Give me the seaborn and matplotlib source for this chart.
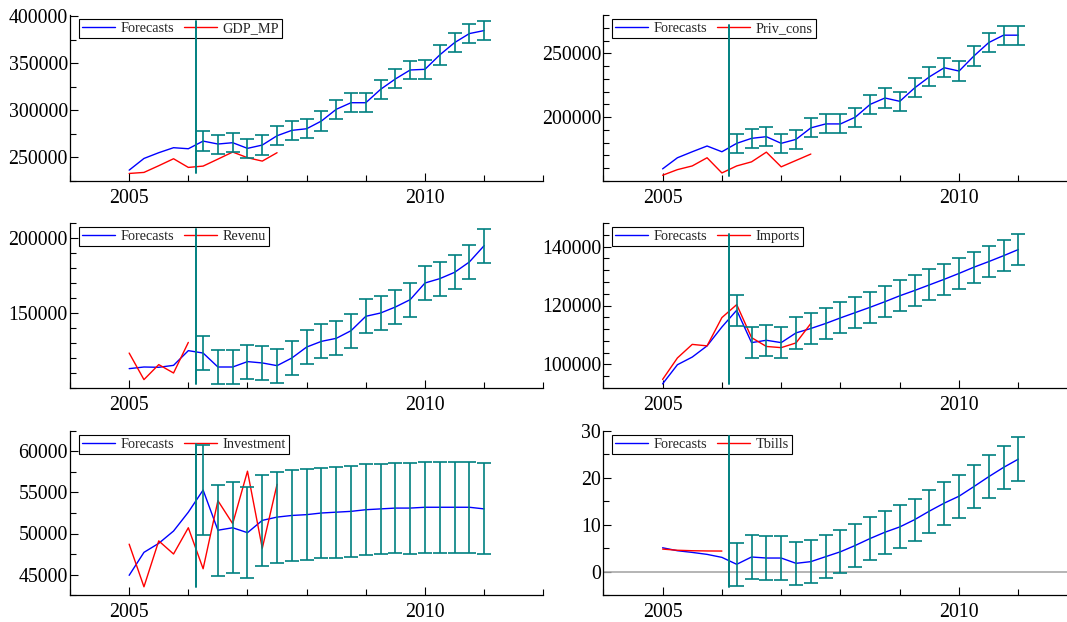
import numpy as np
import matplotlib
matplotlib.use("Agg")
import matplotlib.pyplot as plt
from matplotlib.ticker import FixedLocator, MultipleLocator, StrMethodFormatter
import seaborn as sns

# quarterly dates 2005Q1 .. 2011Q1, first 5 are in-sample fit
quarters = np.arange(2005.0, 2011.01, 0.25)
n_fit = 5

gdp_fc = [236500, 248900, 255000, 260300, 259200, 267300, 264200, 265600, 259600, 263100,
          273000, 278700, 280400, 288600, 301000, 308000, 308000, 322200, 333200, 342700,
          343400, 358700, 371700, 381300, 384500]
gdp_act = [233000, 234100, 241200, 248600, 239400, 240800, 248200, 255700, 249700, 246100, 255000]
gdp_err = [10200, 10100, 10200, 10200, 10200, 10100, 10100, 10200, 10100, 10100,
           10100, 10100, 10000, 10100, 10000, 10100, 10200, 10000, 10200, 10100]

privc_fc = [159500, 168200, 172900, 177400, 172900, 179500, 183400, 184700, 179500, 182600,
            191600, 194700, 194700, 200000, 210000, 215000, 212400, 222900, 231600, 238700,
            236100, 247900, 258400, 264200, 264200]
privc_act = [154500, 158900, 161800, 168200, 156300, 161800, 165000, 172600, 161100, 166100, 171100]
privc_err = [7500, 7400, 7500, 7500, 7400, 7500, 7500, 7500, 7400, 7500,
             7500, 7500, 7500, 7500, 7400, 7500, 7500, 7500, 7500, 7500]

revenu_fc = [112900, 114000, 113800, 115100, 124900, 123300, 114000, 114000, 117600, 116700,
             114900, 120000, 127300, 131100, 133100, 138200, 147800, 150000, 154000, 158900,
             170000, 172900, 177100, 184000, 194900]
revenu_act = [123300, 105600, 115600, 110000, 130400]
revenu_err = [11300, 11400, 11300, 11300, 11400, 11300, 11300, 11400, 11400, 11300,
              11300, 11300, 11400, 11400, 11400, 11200, 11300, 11400, 11500, 11300]

imports_fc = [93400, 99900, 102500, 106300, 112700, 118400, 107400, 108200, 107400, 110700,
              112200, 113900, 115800, 117600, 119400, 121300, 123300, 125100, 127000, 128900,
              130900, 133000, 134900, 136900, 139000]
imports_act = [94900, 102200, 106800, 106300, 115900, 120300, 109100, 106100, 105700, 107300, 113900]
imports_err = [5300, 5200, 5200, 5300, 5300, 5300, 5300, 5300, 5300, 5300,
               5300, 5300, 5300, 5300, 5300, 5300, 5300, 5300, 5300, 5300]

invest_fc = [44900, 47700, 48800, 50300, 52600, 55300, 50400, 50700, 50100, 51600,
             52000, 52200, 52300, 52500, 52600, 52700, 52900, 53000, 53100, 53100,
             53200, 53200, 53200, 53200, 53000]
invest_act = [48700, 43500, 49100, 47500, 50700, 45700, 54000, 51200, 57600, 48200, 56000]
invest_err = [5520, 5530, 5550, 5520, 5520, 5560, 5540, 5520, 5520, 5530,
              5550, 5520, 5520, 5520, 5540, 5520, 5530, 5520, 5540, 5540]

tbills_fc = [5.08, 4.45, 4.09, 3.67, 3.03, 1.55, 3.11, 2.89, 2.89, 1.76,
             2.12, 3.18, 4.23, 5.58, 7.06, 8.40, 9.53, 11.08, 12.91, 14.61,
             16.09, 18.14, 20.25, 22.23, 24.0]
tbills_act = [4.80, 4.55, 4.45, 4.40, 4.38]
tbills_err = [4.6, 4.6, 4.6, 4.6, 4.6, 4.6, 4.6, 4.6, 4.6, 4.6,
              4.6, 4.6, 4.5, 4.6, 4.6, 4.6, 4.6, 4.6, 4.6, 4.65]

sns.set_theme(style="ticks")
plt.rcParams["font.family"] = ["Liberation Serif", "DejaVu Serif"]

fig = plt.figure(figsize=(10.67, 6.22), dpi=100)

W, H = 1067.0, 622.0
cols = [(70, 543.3, (2004, 2012)), (603.3, 1067, (2004, 2011.82))]
rows = [(15, 181), (223, 388), (431, 595)]

# name, fc, actual, err, ylim, major ticks, minor step, vline span, col, row
panels = [
    ("GDP_MP", gdp_fc, gdp_act, gdp_err, (225000, 401000), [250000, 300000, 350000, 400000], 25000, (0.048, 0.964), 0, 0),
    ("Priv_cons", privc_fc, privc_act, privc_err, (150000, 280000), [200000, 250000], 10000, (0.032, 0.938), 1, 0),
    ("Revenu", revenu_fc, revenu_act, revenu_err, (100000, 210000), [150000, 200000], 10000, (0.024, 0.964), 0, 1),
    ("Imports", imports_fc, imports_act, imports_err, (92000, 148000), [100000, 120000, 140000], 4000, (0.024, 0.933), 1, 1),
    ("Investment", invest_fc, invest_act, invest_err, (42500, 62500), [45000, 50000, 55000, 60000], 2500, (0.049, 0.921), 0, 2),
    ("Tbills", tbills_fc, tbills_act, tbills_err, (-5, 30), [0, 10, 20, 30], 5, (0.049, 0.97), 1, 2),
]

split = (quarters[n_fit - 1] + quarters[n_fit]) / 2

for name, fc, act, err, ylim, majors, minor, vspan, c, r in panels:
    x0, x1, xlim = cols[c]
    top, bot = rows[r]
    ax = fig.add_axes([x0 / W, 1 - bot / H, (x1 - x0) / W, (bot - top) / H])
    fc = np.array(fc)

    if name == "Tbills":
        ax.axhline(0, color="#a8a8a8", lw=1.2, zorder=1)

    sns.lineplot(x=quarters, y=fc, ax=ax, color="blue", lw=1, label="Forecasts", zorder=3)
    sns.lineplot(x=quarters[:len(act)], y=act, ax=ax, color="red", lw=1, label=name, zorder=3)
    ax.errorbar(quarters[n_fit:], fc[n_fit:], yerr=err, fmt="none", ecolor="teal",
                elinewidth=1.2, capsize=5, capthick=1.2, zorder=4)
    ax.axvline(split, ymin=vspan[0], ymax=vspan[1], color="teal", lw=1.4, zorder=4)

    ax.set_xlim(*xlim)
    ax.set_ylim(*ylim)
    ax.xaxis.set_major_locator(FixedLocator([2005, 2010]))
    ax.xaxis.set_minor_locator(MultipleLocator(1))
    ax.xaxis.set_major_formatter(StrMethodFormatter("{x:.0f}"))
    ax.yaxis.set_major_locator(FixedLocator(majors))
    ax.yaxis.set_minor_locator(MultipleLocator(minor))
    ax.yaxis.set_major_formatter(StrMethodFormatter("{x:.0f}"))
    ax.set_xlabel("")
    ax.set_ylabel("")

    ax.tick_params(which="both", direction="in", width=0.8, color="black", labelsize=14.3, labelcolor="black")
    ax.tick_params(which="major", length=6)
    ax.tick_params(which="minor", length=4)
    ax.tick_params(axis="x", pad=6)
    ax.tick_params(axis="y", pad=1.5)

    sns.despine(ax=ax)
    for s in ["left", "bottom"]:
        ax.spines[s].set_color("black")
        ax.spines[s].set_linewidth(0.9)
    ax.set_facecolor("white")

    leg = ax.legend(loc="upper left", bbox_to_anchor=(0.019, 0.976), borderaxespad=0, ncol=2,
                    frameon=True, fancybox=False, edgecolor="black", framealpha=1,
                    fontsize=10.3, handlelength=2.3, columnspacing=0.7, handletextpad=0.4,
                    borderpad=0.2)
    leg.get_frame().set_linewidth(0.8)
    leg.set_zorder(2)

fig.savefig("out.png", dpi=100)
